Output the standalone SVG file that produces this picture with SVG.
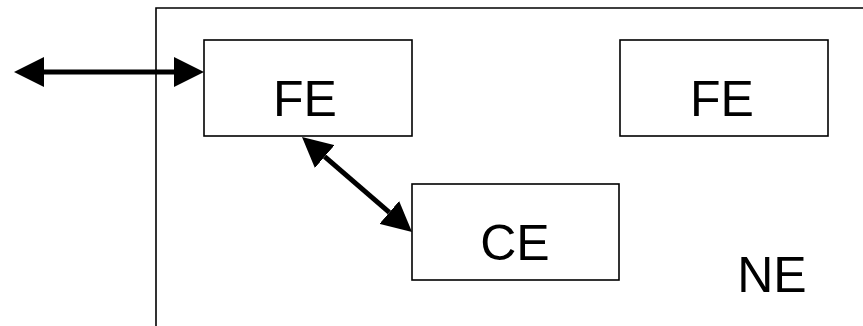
<svg xmlns="http://www.w3.org/2000/svg" width="863" height="326" viewBox="0 0 863 326">
<style>
.box{fill:#fff;stroke:#000;stroke-width:1.6}
.lbl{font-family:"Liberation Sans",Arial,sans-serif;font-size:50px;fill:#000;text-anchor:middle}
.conn{stroke:#000;stroke-width:5;fill:none;marker-start:url(#ah);marker-end:url(#ah)}
</style>
<defs>
<marker id="ah" markerUnits="userSpaceOnUse" markerWidth="30" markerHeight="30" refX="0" refY="15" orient="auto-start-reverse" viewBox="0 0 30 30">
<path d="M0,0 L30,15 L0,30 z" fill="#000"/>
</marker>
</defs>
<g id="NE">
<path d="M156,326 V8 H863" fill="none" stroke="#000" stroke-width="1.6"/>
<text class="lbl" x="772" y="292">NE</text>
</g>
<g id="FE1">
<rect class="box" x="204" y="40" width="208" height="96"/>
<text class="lbl" x="305" y="116">FE</text>
</g>
<g id="FE2">
<rect class="box" x="620" y="40" width="208" height="96"/>
<text class="lbl" x="722" y="116">FE</text>
</g>
<g id="CE">
<rect class="box" x="412" y="184" width="207" height="96"/>
<text class="lbl" x="515" y="260">CE</text>
</g>
<g id="connectors">
<line class="conn" x1="44" y1="72" x2="174" y2="72"/>
<line class="conn" x1="324.7" y1="156.6" x2="389.3" y2="212.4"/>
</g>
</svg>
